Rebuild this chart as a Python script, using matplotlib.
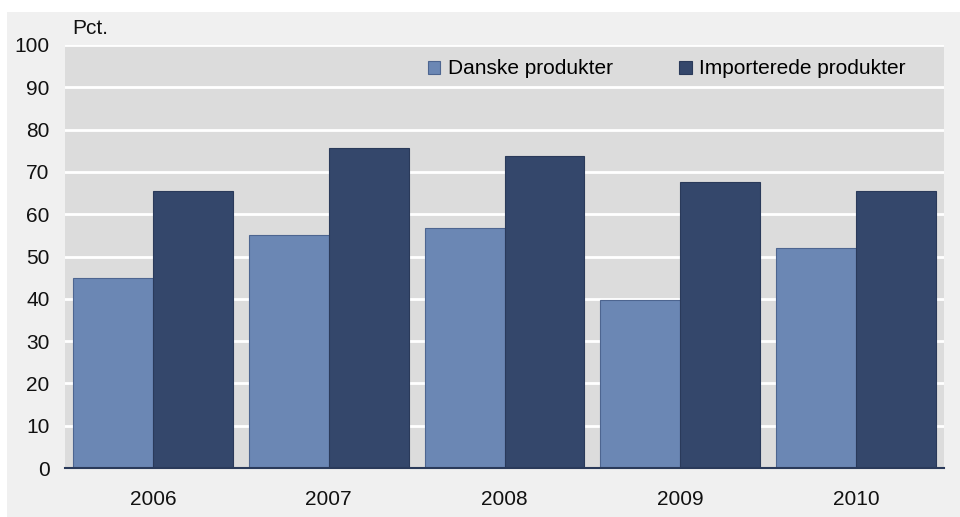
import numpy as np
import matplotlib.pyplot as plt
from matplotlib.patches import Rectangle

# data
years = ['2006', '2007', '2008', '2009', '2010']
danske = [45, 55, 56.7, 39.6, 52]
importerede = [65.6, 75.6, 73.8, 67.6, 65.6]
labels = ['Danske produkter', 'Importerede produkter']

lys = '#6b87b4'
mork = '#34476b'

plt.rcParams['font.family'] = ['Liberation Sans', 'DejaVu Sans']
plt.rcParams['font.size'] = 15

fig = plt.figure(figsize=(9.6, 5.17), dpi=100)
fig.patch.set_facecolor('white')
# grå baggrund bag hele figuren
fig.patches.append(Rectangle((7/960, 0), 1, (517-12)/517, transform=fig.transFigure,
                             facecolor='#f0f0f0', edgecolor='none', zorder=-5))

ax = fig.add_axes([65/960, 1-468/517, (944-65)/960, (468-45)/517])
ax.set_zorder(2)
ax.set_facecolor('#dcdcdc')

x = np.arange(len(years))
w = 0.455
ax.bar(x - w/2, danske, w, color=lys, edgecolor='#4d6590', linewidth=0.8, label=labels[0], zorder=3)
ax.bar(x + w/2, importerede, w, color=mork, edgecolor='#2a3a5a', linewidth=0.8, label=labels[1], zorder=3)

ax.set_xlim(-0.5, len(years) - 0.5)
ax.set_ylim(0, 100)
ax.set_yticks(range(0, 101, 10))
ax.set_xticks(x)
ax.set_xticklabels(years)
ax.yaxis.grid(True, color='white', linewidth=2, zorder=1)
ax.set_axisbelow(True)
ax.tick_params(axis='both', length=0, colors='#111111', labelsize=15)
ax.tick_params(axis='y', pad=11)
ax.tick_params(axis='x', pad=16)
for s in ['top', 'right', 'left']:
    ax.spines[s].set_visible(False)
ax.spines['bottom'].set_color('#2a3a5a')
ax.spines['bottom'].set_linewidth(1.5)
ax.spines['bottom'].set_zorder(4)

fig.text(72/960, 1-28/517, 'Pct.', ha='left', va='center', fontsize=15, color='#111111')

leg = fig.legend(loc='center left', bbox_to_anchor=(409/960, 1-69/517), ncol=2,
                 frameon=False, handlelength=0.6, handleheight=0.6, handletextpad=0.36,
                 columnspacing=3.2, fontsize=15)
leg.set_zorder(5)

fig.savefig('out.png', dpi=100, facecolor=fig.get_facecolor())
